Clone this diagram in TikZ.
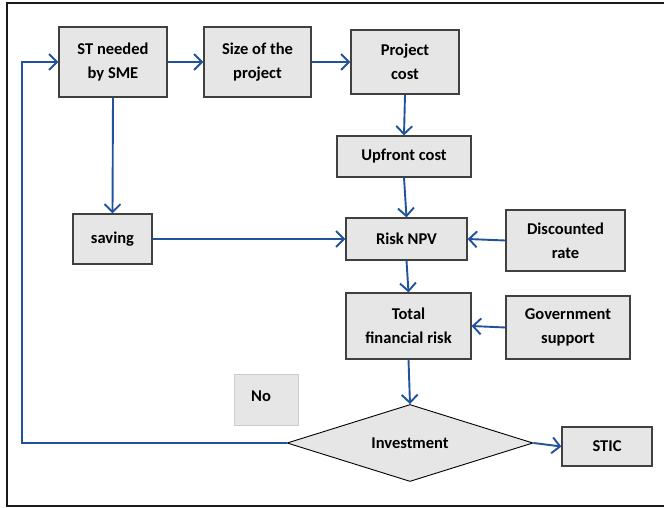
\documentclass[tikz,border=0pt]{standalone}
\usepackage{fontspec}
\setmainfont{Carlito}
\usetikzlibrary{arrows.meta,shapes.geometric}
\definecolor{arrowblue}{RGB}{32,82,158}
\definecolor{boxfill}{RGB}{230,230,230}
\definecolor{boxline}{RGB}{64,64,64}
\definecolor{nofill}{RGB}{230,230,230}
\definecolor{noline}{RGB}{205,205,205}
\tikzset{
  flowbox/.style={draw=boxline, line width=1.2pt, fill=boxfill, inner sep=0pt,
    align=center, font=\fontsize{16.5}{24}\selectfont\bfseries},
  nobox/.style={draw=noline, line width=0.8pt, fill=nofill, inner sep=0pt},
  lbl/.style={inner sep=0pt, font=\fontsize{16.5}{24}\selectfont\bfseries},
  decision/.style={diamond, aspect=3.2, draw=black, line width=0.9pt, fill=boxfill,
    inner sep=0pt, minimum width=246pt, minimum height=77pt,
    font=\fontsize{16.5}{24}\selectfont\bfseries},
  conn/.style={draw=arrowblue, line width=1.9pt,
    -{Straight Barb[length=8pt,width=16pt,line width=1.9pt]}},
  frame/.style={draw=black!90, line width=2.6pt}
}
\begin{document}
\begin{tikzpicture}[x=1pt,y=-1pt]
\useasboundingbox (0,0) rectangle (664,508);
\draw[frame] (664,3) -- (7,3) -- (7,506) -- (664,506);

\node[flowbox, minimum width=108pt, minimum height=70pt] (st) at (113,62) {ST needed\\by SME};
\node[flowbox, minimum width=107pt, minimum height=70pt] (size) at (257.5,62) {Size of the\\project};
\node[flowbox, minimum width=108pt, minimum height=64pt] (pc) at (405,62) {Project\\cost};
\node[flowbox, minimum width=134pt, minimum height=41pt] (up) at (404,156.5) {Upfront cost};
\node[flowbox, minimum width=79pt, minimum height=50pt] (sav) at (112.5,239) {saving};
\node[flowbox, minimum width=121pt, minimum height=42pt] (npv) at (406.5,239) {Risk NPV};
\node[flowbox, minimum width=119pt, minimum height=61pt] (dr) at (565.5,240.5) {Discounted\\rate};
\node[flowbox, minimum width=125pt, minimum height=66pt] (tfr) at (408.5,326) {Total\\financial risk};
\node[flowbox, minimum width=124pt, minimum height=63pt] (gov) at (568,327.5) {Government\\support};
\node[decision] (inv) at (410,443) {Investment};
\node[flowbox, minimum width=90pt, minimum height=39pt] (stic) at (607,446.5) {STIC};
\node[nobox, minimum width=64pt, minimum height=51pt] (no) at (266,399.5) {};
\node[lbl] (notext) at (261,396) {No};

\coordinate (lpb) at (22,443);
\coordinate (lpt) at (22,62);

\draw[conn] (inv.west) -- (lpb) -- (lpt) -- (st.west);
\draw[conn] (st.east) -- (size.west);
\draw[conn] (size.east) -- (pc.west);
\draw[conn] (st.south) -- (sav.north);
\draw[conn] (pc.south) -- (up.north);
\draw[conn] (up.south) -- (npv.north);
\draw[conn] (sav.east) -- (npv.west);
\draw[conn] (dr.west) -- (npv.east);
\draw[conn] (npv.south) -- (tfr.north);
\draw[conn] (gov.west) -- (tfr.east);
\draw[conn] (tfr.south) -- (inv.north);
\draw[conn] (inv.east) -- (stic.west);
\end{tikzpicture}
\end{document}
